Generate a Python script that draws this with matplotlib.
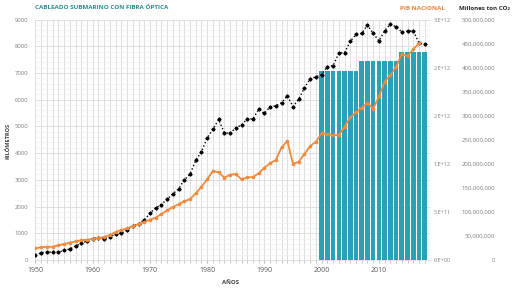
import matplotlib
matplotlib.use("Agg")
import matplotlib.pyplot as plt
from matplotlib.ticker import MultipleLocator, FuncFormatter

plt.rcParams['font.family'] = ['Open Sans', 'DejaVu Sans']

# Cableado submarino (km), 1950-2018
years_km = list(range(1950, 2019))
km = [170, 275, 300, 290, 290, 360, 410, 525, 625, 710,
      800, 840, 800, 850, 990, 1000, 1125, 1275, 1360, 1490,
      1750, 1950, 2075, 2275, 2475, 2660, 3000, 3210, 3725, 4060,
      4570, 4890, 5260, 4760, 4740, 4950, 5050, 5280, 5280, 5640,
      5485, 5735, 5770, 5885, 6140, 5740, 6020, 6445, 6790, 6850,
      6940, 7240, 7270, 7740, 7755, 8190, 8440, 8480, 8790, 8480,
      8200, 8575, 8825, 8725, 8540, 8565, 8575, 8125, 8065]

# PIB nacional (x 1e12), 1950-2017
years_pib = list(range(1950, 2018))
pib = [0.122, 0.132, 0.138, 0.138, 0.152, 0.166, 0.180, 0.194, 0.205, 0.211,
       0.218, 0.229, 0.239, 0.260, 0.291, 0.312, 0.329, 0.350, 0.374, 0.395,
       0.419, 0.440, 0.478, 0.516, 0.551, 0.579, 0.610, 0.634, 0.693, 0.762,
       0.839, 0.925, 0.911, 0.856, 0.887, 0.894, 0.839, 0.858, 0.863, 0.901,
       0.960, 1.005, 1.040, 1.171, 1.237, 0.998, 1.022, 1.102, 1.185, 1.230,
       1.317, 1.310, 1.299, 1.299, 1.386, 1.483, 1.535, 1.582, 1.633, 1.572,
       1.700, 1.853, 1.923, 2.006, 2.139, 2.121, 2.190, 2.253]
pib = [v * 1e12 for v in pib]

# Emisiones CO2 (toneladas), 2000-2018
years_co2 = list(range(2000, 2019))
co2 = [393e6] * 7 + [414e6] * 7 + [432e6] * 5

pib_ticks = [0, 0.5e12, 1.0e12, 1.5e12, 2.0e12, 2.5e12]
pib_labels = ['0.E+00', '5.E+11', '1.E+12', '2.E+12', '2.E+12', '3.E+12']

grey = '#7F7F7F'

fig = plt.figure(figsize=(5.21, 2.93), dpi=100)
ax = fig.add_axes([0.067, 0.1126, 0.758, 0.8208])

# main axis: km + grid
ax.set_xlim(1949.9, 2018.9)
ax.set_ylim(0, 9000)
ax.xaxis.set_major_locator(MultipleLocator(10))
ax.xaxis.set_minor_locator(MultipleLocator(1))
ax.yaxis.set_major_locator(MultipleLocator(1000))
ax.yaxis.set_minor_locator(MultipleLocator(200))
ax.grid(which='major', axis='both', color='#D9D9D9', lw=0.6)
ax.grid(which='minor', axis='x', color='#D9D9D9', lw=0.6)
ax.grid(which='minor', axis='y', color='#EEEEEE', lw=0.5)
ax.set_axisbelow(True)
ax.tick_params(axis='y', which='both', length=0, labelsize=4.3, labelcolor=grey, pad=5)
ax.tick_params(axis='x', which='major', length=2, color='#BFBFBF', labelsize=5,
               labelcolor='#595959', pad=3)
ax.tick_params(axis='x', which='minor', length=2, color='#BFBFBF')
for s in ['top', 'right', 'left']:
    ax.spines[s].set_visible(False)
ax.spines['bottom'].set_color('#D9D9D9')
ax.spines['bottom'].set_linewidth(0.6)

# CO2 bars
ax_co2 = ax.twinx()
ax_co2.set_ylim(0, 500e6)
ax_co2.bar(years_co2, co2, width=0.8, color='#2CA0B6', edgecolor='none')
ax_co2.set_yticks(range(0, 500000001, 50000000))
ax_co2.yaxis.set_major_formatter(FuncFormatter(lambda v, p: '{:,.0f}'.format(v)))
ax_co2.tick_params(axis='y', length=0, labelsize=4.3, labelcolor=grey, pad=47)
for lbl in ax_co2.get_yticklabels():
    lbl.set_horizontalalignment('right')
for s in ax_co2.spines.values():
    s.set_visible(False)

# black km line above bars
ax_line = ax.twinx()
ax_line.set_ylim(ax.get_ylim())
ax_line.plot(years_km, km, color='black', ls=':', lw=1.0, marker='D', ms=1.6)
ax_line.set_axis_off()

# PIB
ax_pib = ax.twinx()
ax_pib.set_ylim(0, 2.5e12)
ax_pib.plot(years_pib, pib, color='#F28A3C', lw=1.3, marker='o', ms=1.6)
ax_pib.set_yticks(pib_ticks)
ax_pib.set_yticklabels(pib_labels)
ax_pib.tick_params(axis='y', length=0, labelsize=4.0, labelcolor=grey, pad=3)
for s in ax_pib.spines.values():
    s.set_visible(False)

ax.set_zorder(1)
ax_co2.set_zorder(2)
ax_line.set_zorder(3)
ax_pib.set_zorder(4)

fig.text(35 / 521, 1 - 7 / 293, 'CABLEADO SUBMARINO CON FIBRA ÓPTICA', color='#2A8C8C',
         fontsize=4.5, fontweight='bold', va='center')
fig.text(400 / 521, 1 - 8 / 293, 'PIB NACIONAL', color='#E8833A',
         fontsize=4.5, fontweight='bold', va='center')
fig.text(459 / 521, 1 - 8 / 293, 'Millones ton CO₂', color='#262626',
         fontsize=4.4, fontweight='bold', va='center')
fig.text(8 / 521, 1 - 141 / 293, 'KILÓMETROS', color='#404040', fontsize=4.1,
         fontweight='bold', rotation=90, ha='center', va='center')
fig.text(230 / 521, 1 - 283 / 293, 'AÑOS', color='#404040', fontsize=4.3,
         fontweight='bold', ha='center', va='center')

fig.savefig('out.png', dpi=100)
